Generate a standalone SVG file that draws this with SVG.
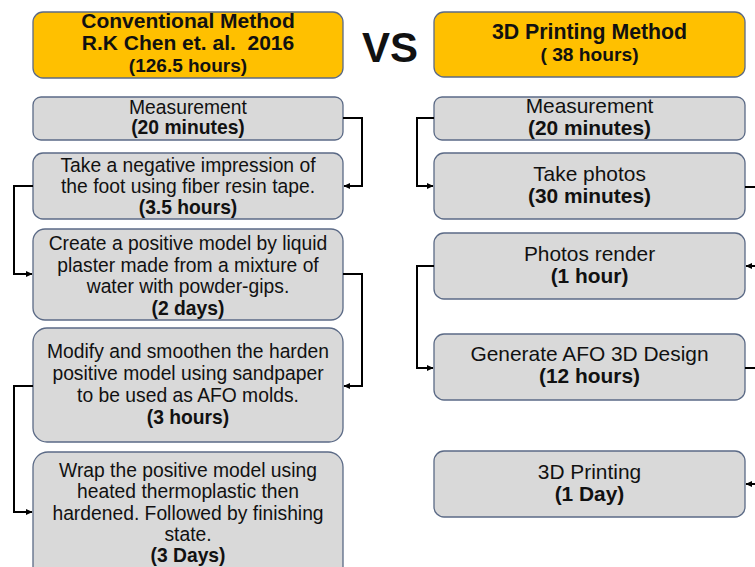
<svg xmlns="http://www.w3.org/2000/svg" width="755" height="567" viewBox="0 0 755 567">
  <defs>
    <marker id="arrow" markerWidth="7" markerHeight="7" refX="6" refY="3.5" orient="auto" markerUnits="userSpaceOnUse">
      <path d="M0,0.5 L6.5,3.5 L0,6.5 Z" fill="#000"/>
    </marker>
    <style>
      .hdr { fill: #FFC000; stroke: #5B6A86; stroke-width: 1.3; }
      .box { fill: #D9D9D9; stroke: #5B6A86; stroke-width: 1.3; }
      text { font-family: "Liberation Sans", Arial, sans-serif; fill: #111; text-anchor: middle; }
      .b { font-weight: bold; }
      .l { font-size: 19.3px; }
      .r { font-size: 20.9px; }
      .link { fill: none; stroke: #000; stroke-width: 2; }
      .arr { marker-end: url(#arrow); }
    </style>
  </defs>

  <rect width="755" height="567" fill="#fff"/>

  <!-- column headers -->
  <g id="hdr-conventional">
    <rect class="hdr" x="33" y="12" width="310" height="66" rx="10"/>
    <text class="b" x="188" y="28" font-size="21">Conventional Method</text>
    <text class="b" x="188" y="50" font-size="21" xml:space="preserve">R.K Chen et. al.  2016</text>
    <text class="b" x="188" y="72" font-size="19">(126.5 hours)</text>
  </g>
  <g id="vs">
    <text class="b" x="390" y="62" font-size="42">VS</text>
  </g>
  <g id="hdr-3d">
    <rect class="hdr" x="434" y="12" width="311" height="65" rx="10"/>
    <text class="b" x="589.5" y="39" font-size="21.3">3D Printing Method</text>
    <text class="b" x="589.5" y="61" font-size="19.2" xml:space="preserve">( 38 hours)</text>
  </g>

  <!-- conventional method steps -->
  <g id="c1">
    <rect class="box" x="33" y="97" width="310" height="43" rx="8"/>
    <text class="l" x="188" y="114">Measurement</text>
    <text class="l b" x="188" y="134">(20 minutes)</text>
  </g>
  <g id="c2">
    <rect class="box" x="33" y="153" width="310" height="66" rx="10"/>
    <text class="l" x="188" y="172">Take a negative impression of</text>
    <text class="l" x="188" y="193">the foot using fiber resin tape.</text>
    <text class="l b" x="188" y="214">(3.5 hours)</text>
  </g>
  <g id="c3">
    <rect class="box" x="33" y="229" width="310" height="91" rx="12"/>
    <text class="l" x="188" y="250">Create a positive model by liquid</text>
    <text class="l" x="188" y="272">plaster made from a mixture of</text>
    <text class="l" x="188" y="293">water with powder-gips.</text>
    <text class="l b" x="188" y="315">(2 days)</text>
  </g>
  <g id="c4">
    <rect class="box" x="33" y="328" width="310" height="114" rx="14"/>
    <text class="l" x="188" y="358">Modify and smoothen the harden</text>
    <text class="l" x="188" y="380">positive model using sandpaper</text>
    <text class="l" x="188" y="402">to be used as AFO molds.</text>
    <text class="l b" x="188" y="424">(3 hours)</text>
  </g>
  <g id="c5">
    <rect class="box" x="33" y="452" width="310" height="140" rx="15"/>
    <text class="l" x="188" y="477">Wrap the positive model using</text>
    <text class="l" x="188" y="498">heated thermoplastic then</text>
    <text class="l" x="188" y="520">hardened. Followed by finishing</text>
    <text class="l" x="188" y="541">state.</text>
    <text class="l b" x="188" y="562">(3 Days)</text>
  </g>

  <!-- 3D printing method steps -->
  <g id="p1">
    <rect class="box" x="434" y="97" width="311" height="43" rx="8"/>
    <text class="r" x="589.5" y="113">Measurement</text>
    <text class="r b" x="589.5" y="135">(20 minutes)</text>
  </g>
  <g id="p2">
    <rect class="box" x="434" y="153" width="311" height="66" rx="10"/>
    <text class="r" x="589.5" y="181">Take photos</text>
    <text class="r b" x="589.5" y="203">(30 minutes)</text>
  </g>
  <g id="p3">
    <rect class="box" x="434" y="233" width="311" height="66" rx="10"/>
    <text class="r" x="589.5" y="261">Photos render</text>
    <text class="r b" x="589.5" y="283">(1 hour)</text>
  </g>
  <g id="p4">
    <rect class="box" x="434" y="334" width="311" height="66" rx="10"/>
    <text class="r" x="589.5" y="361">Generate AFO 3D Design</text>
    <text class="r b" x="589.5" y="383">(12 hours)</text>
  </g>
  <g id="p5">
    <rect class="box" x="434" y="451" width="311" height="66" rx="10"/>
    <text class="r" x="589.5" y="479">3D Printing</text>
    <text class="r b" x="589.5" y="501">(1 Day)</text>
  </g>

  <!-- elbow connectors -->
  <g id="connectors">
    <path class="link arr" d="M343,118 H362 V186 H344"/>
    <path class="link arr" d="M33,186 H14 V274 H32"/>
    <path class="link arr" d="M343,274 H362 V386 H344"/>
    <path class="link arr" d="M33,386 H14 V512 H32"/>

    <path class="link arr" d="M434,118 H417 V186 H433"/>
    <path class="link" d="M745,187 H760"/>
    <path class="link arr" d="M760,266 H746"/>
    <path class="link arr" d="M434,266 H417 V368 H433"/>
    <path class="link" d="M745,368 H760"/>
    <path class="link arr" d="M760,484 H746"/>
  </g>
</svg>
